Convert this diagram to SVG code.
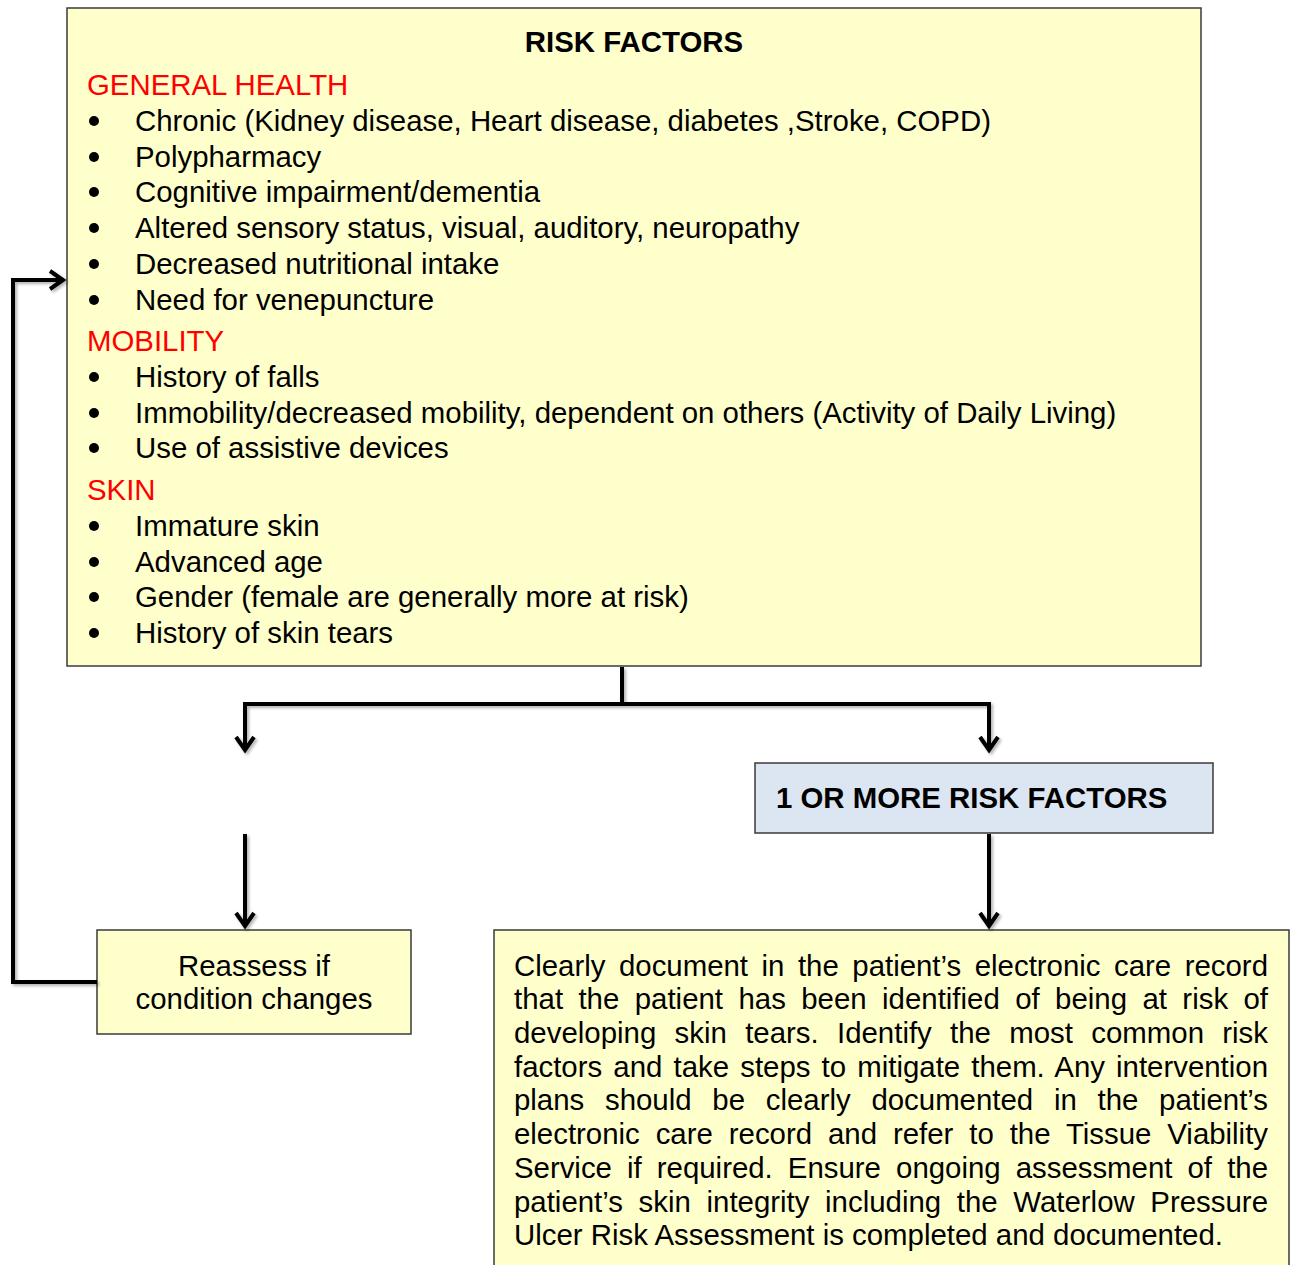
<svg xmlns="http://www.w3.org/2000/svg" width="1293" height="1265" viewBox="0 0 1293 1265">
<style>
  text { font-family: "Liberation Sans", Arial, sans-serif; font-size: 29.4px; fill: #000; }
  .b { font-weight: bold; }
  .h { fill: #FF0000; }
  .box { fill: #FFFFCC; stroke: #3a3a3a; stroke-width: 1.5; }
  .blue { fill: #DCE6F2; stroke: #3a3a3a; stroke-width: 1.5; }
  .con { fill: none; stroke: #000; stroke-width: 4; stroke-linejoin: miter; }
</style>
<defs>
  <marker id="arr" markerUnits="userSpaceOnUse" viewBox="-16 -12 20 24" refX="0" refY="0" markerWidth="20" markerHeight="24" orient="auto" overflow="visible">
    <path d="M-13,-9 L0,0 L-13,9" fill="none" stroke="#000" stroke-width="4" stroke-linejoin="miter"/>
  </marker>
  <filter id="sh" x="-5%" y="-5%" width="110%" height="110%">
    <feDropShadow dx="2" dy="2" stdDeviation="1.5" flood-color="#000" flood-opacity="0.3"/>
  </filter>
</defs>

<g id="risk-factors">
  <rect class="box" x="67" y="8" width="1134" height="658"/>
  <text class="b" x="634" y="52" text-anchor="middle">RISK FACTORS</text>
  <text class="h" x="87" y="95">GENERAL HEALTH</text>
  <g fill="#000">
    <circle cx="94" cy="121" r="5"/><circle cx="94" cy="157" r="5"/><circle cx="94" cy="192" r="5"/>
    <circle cx="94" cy="228" r="5"/><circle cx="94" cy="264" r="5"/><circle cx="94" cy="300" r="5"/>
    <circle cx="94" cy="377" r="5"/><circle cx="94" cy="413" r="5"/><circle cx="94" cy="448" r="5"/>
    <circle cx="94" cy="526" r="5"/><circle cx="94" cy="562" r="5"/><circle cx="94" cy="597" r="5"/>
    <circle cx="94" cy="633" r="5"/>
  </g>
  <text x="135" y="131">Chronic (Kidney disease, Heart disease, diabetes ,Stroke, COPD)</text>
  <text x="135" y="167">Polypharmacy</text>
  <text x="135" y="202">Cognitive impairment/dementia</text>
  <text x="135" y="238">Altered sensory status, visual, auditory, neuropathy</text>
  <text x="135" y="274">Decreased nutritional intake</text>
  <text x="135" y="310">Need for venepuncture</text>
  <text class="h" x="87" y="351">MOBILITY</text>
  <text x="135" y="387">History of falls</text>
  <text x="135" y="423">Immobility/decreased mobility, dependent on others (Activity of Daily Living)</text>
  <text x="135" y="458">Use of assistive devices</text>
  <text class="h" x="87" y="500">SKIN</text>
  <text x="135" y="536">Immature skin</text>
  <text x="135" y="572">Advanced age</text>
  <text x="135" y="607">Gender (female are generally more at risk)</text>
  <text x="135" y="643">History of skin tears</text>
</g>

<g id="one-or-more">
  <rect class="blue" x="755" y="763" width="458" height="70"/>
  <text class="b" x="776" y="808">1 OR MORE RISK FACTORS</text>
</g>

<g id="reassess">
  <rect class="box" x="97" y="930" width="314" height="104"/>
  <text x="254" y="976" text-anchor="middle">Reassess if</text>
  <text x="254" y="1009" text-anchor="middle">condition changes</text>
</g>

<g id="document">
  <rect class="box" x="494" y="930" width="795" height="345"/>
  <text x="514" y="976" word-spacing="5.4" textLength="754" lengthAdjust="spacing">Clearly document in the patient’s electronic care record</text>
  <text x="514" y="1009" word-spacing="7.2" textLength="754" lengthAdjust="spacing">that the patient has been identified of being at risk of</text>
  <text x="514" y="1043" word-spacing="10.1" textLength="754" lengthAdjust="spacing">developing skin tears. Identify the most common risk</text>
  <text x="514" y="1077" word-spacing="3" textLength="754" lengthAdjust="spacing">factors and take steps to mitigate them. Any intervention</text>
  <text x="514" y="1110" word-spacing="12.6" textLength="754" lengthAdjust="spacing">plans should be clearly documented in the patient’s</text>
  <text x="514" y="1144" word-spacing="7.75" textLength="754" lengthAdjust="spacing">electronic care record and refer to the Tissue Viability</text>
  <text x="514" y="1178" word-spacing="7" textLength="754" lengthAdjust="spacing">Service if required. Ensure ongoing assessment of the</text>
  <text x="514" y="1212" word-spacing="7.5" textLength="754" lengthAdjust="spacing">patient’s skin integrity including the Waterlow Pressure</text>
  <text x="514" y="1245">Ulcer Risk Assessment is completed and documented.</text>
</g>

<g id="connectors" filter="url(#sh)">
  <path class="con" d="M622,667 V704"/>
  <path class="con" d="M622,704 H245 V750" marker-end="url(#arr)"/>
  <path class="con" d="M622,704 H989 V750" marker-end="url(#arr)"/>
  <path class="con" d="M245,834 V926" marker-end="url(#arr)"/>
  <path class="con" d="M989,834 V926" marker-end="url(#arr)"/>
  <path class="con" d="M97,982 H13 V280 H63" marker-end="url(#arr)"/>
</g>
</svg>
